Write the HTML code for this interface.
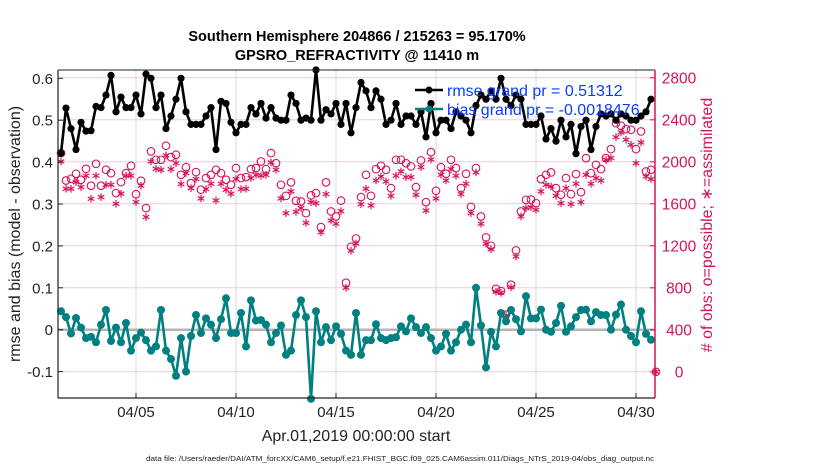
<!DOCTYPE html>
<html><head><meta charset="utf-8"><style>
html,body{margin:0;padding:0;background:#fff;}
svg{display:block;font-family:"Liberation Sans",Arial,sans-serif;}
</style></head><body>
<svg id="chart" width="830" height="470" viewBox="0 0 830 470" xmlns="http://www.w3.org/2000/svg">
<g id="grid"></g>
<g id="marks"></g>
<g id="axes"></g>
<text x="357" y="41" text-anchor="middle" font-size="14.5" font-weight="bold">Southern Hemisphere 204866 / 215263 = 95.170%</text>
<text x="357" y="60" text-anchor="middle" font-size="14.5" font-weight="bold">GPSRO_REFRACTIVITY @ 11410 m</text>
<text transform="translate(20,234) rotate(-90)" text-anchor="middle" font-size="16" fill="#222">rmse and bias (model - observation)</text>
<text transform="translate(712,225) rotate(-90)" text-anchor="middle" font-size="16" fill="#d6135a"># of obs: o=possible; ∗=assimilated</text>
<text x="356" y="441" text-anchor="middle" font-size="16" fill="#222">Apr.01,2019 00:00:00 start</text>
<text x="146" y="461" font-size="7.5" textLength="508" lengthAdjust="spacingAndGlyphs" fill="#222">data file: /Users/raeder/DAI/ATM_forcXX/CAM6_setup/f.e21.FHIST_BGC.f09_025.CAM6assim.011/Diags_NTrS_2019-04/obs_diag_output.nc</text>
<g>
<line x1="415" y1="90" x2="443" y2="90" stroke="#000" stroke-width="2.5"/>
<circle cx="429" cy="90" r="3.5" fill="#000"/>
<line x1="415" y1="109" x2="443" y2="109" stroke="#008080" stroke-width="2.5"/>
<circle cx="429" cy="109" r="3.5" fill="#008080"/>
<text x="447" y="96" font-size="16" fill="#0a3cff">rmse grand pr = 0.51312</text>
<text x="447" y="115" font-size="16" fill="#0a3cff">bias grand pr = -0.0018476</text>
</g>
</svg>
<script>
const rmse=[0.421,0.529,0.48,0.43,0.495,0.474,0.475,0.533,0.53,0.56,0.607,0.52,0.555,0.53,0.53,0.56,0.515,0.61,0.6,0.53,0.56,0.48,0.51,0.55,0.6,0.52,0.49,0.49,0.49,0.51,0.53,0.43,0.545,0.54,0.495,0.47,0.49,0.49,0.53,0.515,0.54,0.505,0.53,0.505,0.5,0.5,0.56,0.54,0.5,0.505,0.5,0.62,0.5,0.525,0.515,0.54,0.49,0.54,0.47,0.53,0.59,0.57,0.53,0.57,0.55,0.49,0.5,0.54,0.49,0.51,0.51,0.49,0.52,0.46,0.54,0.47,0.5,0.5,0.48,0.52,0.51,0.5,0.47,0.535,0.56,0.55,0.57,0.55,0.6,0.55,0.535,0.56,0.55,0.49,0.49,0.49,0.51,0.455,0.48,0.45,0.5,0.46,0.49,0.42,0.485,0.5,0.43,0.485,0.515,0.51,0.515,0.5,0.515,0.51,0.5,0.5,0.51,0.52,0.55];
const bias=[0.044,0.03,-0.009,0.028,0.005,-0.02,-0.017,-0.03,0.012,0.047,-0.027,0.005,-0.03,0.016,-0.05,-0.02,-0.007,-0.025,-0.05,-0.04,0.047,-0.05,-0.07,-0.11,-0.02,-0.1,-0.015,0.035,-0.008,0.027,0.012,-0.02,0.025,0.075,-0.008,-0.008,0.04,-0.04,0.07,0.022,0.023,0.012,-0.03,-0.008,0.01,-0.06,-0.05,0.035,0.07,0.03,-0.165,0.044,-0.03,0.006,-0.025,0.008,-0.01,-0.05,-0.06,0.04,-0.06,-0.025,-0.025,0.013,-0.02,-0.025,-0.02,-0.018,0.008,-0.004,0.027,0.006,-0.008,0.006,-0.02,-0.05,-0.04,-0.01,-0.05,-0.03,0,0.012,-0.03,0.1,0.01,-0.09,-0.005,-0.04,0.04,0.02,0.047,0.025,-0.004,0.08,0.027,0.027,0.048,0,-0.005,0.016,0.057,-0.005,0.008,0.03,0.047,0.048,0.02,0.042,0.035,0.035,0,0.036,0.06,0,-0.015,-0.03,0.044,-0.01,-0.024];
const possible=[2083,1822,1838,1886,1829,1933,1772,1981,1772,1924,1892,1702,1807,1892,1962,1692,1820,1559,2099,2019,2019,2153,2045,2067,1876,1949,1797,1902,1734,1845,1876,1924,1892,1829,1781,1940,1845,1854,1930,1940,2003,1930,2083,1987,1781,1676,1804,1629,1622,1511,1680,1702,1378,1804,1527,1479,1630,848,1190,1270,1664,1876,1676,1930,1962,1924,1749,2019,2019,1987,1956,1759,2013,1616,2092,1724,1949,1886,2019,1940,1749,1886,1571,1940,1479,1280,1200,790,770,543,829,1156,1527,1638,1640,1606,1835,1876,1899,1749,1686,1845,1692,1883,1711,2035,1892,1971,1930,2035,2121,2368,2343,2311,2305,2121,2289,1908,1924,0];
const assimilated=[2003,1743,1743,1806,1759,1867,1648,1867,1664,1781,1781,1600,1696,1867,1867,1616,1772,1474,2003,1933,1924,2061,1930,1987,1788,1892,1749,1836,1651,1740,1791,1632,1791,1734,1696,1836,1740,1743,1845,1876,1867,1876,1994,1924,1651,1511,1718,1524,1559,1419,1616,1606,1328,1692,1441,1410,1530,800,1153,1222,1597,1743,1584,1822,1860,1813,1676,1867,1908,1854,1854,1686,1949,1536,2022,1651,1876,1822,1930,1867,1692,1791,1511,1899,1410,1219,1168,762,752,535,806,1098,1479,1559,1568,1543,1718,1781,1765,1676,1606,1749,1597,1791,1616,1876,1791,1845,1822,2019,2035,2235,2280,2210,2162,1987,2184,1860,1836,0];
const dateTicks=["04/05","04/10","04/15","04/20","04/25","04/30"];
const dateTickDays=[4,9,14,19,24,29];
const leftTicks=[-0.1,0,0.1,0.2,0.3,0.4,0.5,0.6];
const rightTicks=[0,400,800,1200,1600,2000,2400,2800];

const NS="http://www.w3.org/2000/svg";
const X0=58,X1=655,Y0=70,Y1=398;
const xDay=d=>56+20*d;
const xIdx=i=>xDay(0.25+0.25*i);
const yL=v=>329.7-v*419;
const yR=v=>371.8-v*0.105;
function mk(tag,attrs,parent){const e=document.createElementNS(NS,tag);for(const k in attrs)e.setAttribute(k,attrs[k]);parent.appendChild(e);return e;}
const grid=document.getElementById('grid'),marks=document.getElementById('marks'),axes=document.getElementById('axes');

rightTicks.forEach(v=>{const l=mk('line',{x1:X0,x2:X1,y1:yR(v),y2:yR(v),stroke:'#f6c9d8','stroke-width':1},grid);

});
dateTickDays.forEach((d,i)=>{const l=mk('line',{x1:xDay(d),x2:xDay(d),y1:Y0,y2:Y1,stroke:'#d8d8d8','stroke-width':1},grid);


const t=mk('text',{x:xDay(d),y:417,'text-anchor':'middle','font-size':15,fill:'#222'},axes);t.textContent=dateTicks[i];


mk('line',{x1:xDay(d),x2:xDay(d),y1:Y1,y2:Y1-5,stroke:'#222'},axes);});
const z=mk('line',{x1:X0,x2:X1,y1:yL(0),y2:yL(0),stroke:'#b4b4b4','stroke-width':2.5},grid);



function star(cx,cy,parent){const g=mk('g',{stroke:'#d6135a','stroke-width':1.2},parent);const r=3.8;
[[0,1],[0.87,0.5],[0.87,-0.5]].forEach(([a,b])=>mk('line',{x1:cx-a*r,y1:cy-b*r,x2:cx+a*r,y2:cy+b*r},g));return g;}
possible.forEach((v,i)=>{const c=mk('circle',{cx:xIdx(i),cy:yR(v),r:3.8,fill:'none',stroke:'#d6135a','stroke-width':1.1},marks);

});
assimilated.forEach((v,i)=>{const g=star(xIdx(i),yR(v),marks);

});

function series(arr,color,name,r){const pts=arr.map((v,i)=>xIdx(i)+','+yL(v)).join(' ');
const pl=mk('polyline',{points:pts,fill:'none',stroke:color,'stroke-width':2.6,'stroke-linejoin':'round'},marks);


arr.forEach((v,i)=>{const c=mk('circle',{cx:xIdx(i),cy:yL(v),r:r,fill:color},marks);

});}
series(rmse,'#000','rmse',3.6);
series(bias,'#008080','bias',4);

mk('line',{x1:X0,x2:X1,y1:Y0,y2:Y0,stroke:'#222','stroke-width':1},axes);
mk('line',{x1:X0,x2:X1,y1:Y1,y2:Y1,stroke:'#222','stroke-width':1.2},axes);
mk('line',{x1:X0,x2:X0,y1:Y0,y2:Y1,stroke:'#222','stroke-width':1.2},axes);
mk('line',{x1:X1,x2:X1,y1:Y0,y2:Y1,stroke:'#d6135a','stroke-width':1.5},axes);
leftTicks.forEach(v=>{mk('line',{x1:X0,x2:X0+5,y1:yL(v),y2:yL(v),stroke:'#222'},axes);
const t=mk('text',{x:X0-5,y:yL(v)+5.5,'text-anchor':'end','font-size':15,fill:'#222'},axes);t.textContent=String(v);

});
rightTicks.forEach(v=>{mk('line',{x1:X1,x2:X1-5,y1:yR(v),y2:yR(v),stroke:'#d6135a'},axes);
const t=mk('text',{x:679,y:yR(v)+5.5,'text-anchor':'middle','font-size':15.5,fill:'#d6135a'},axes);t.textContent=String(v);

});
</script>
</body></html>
